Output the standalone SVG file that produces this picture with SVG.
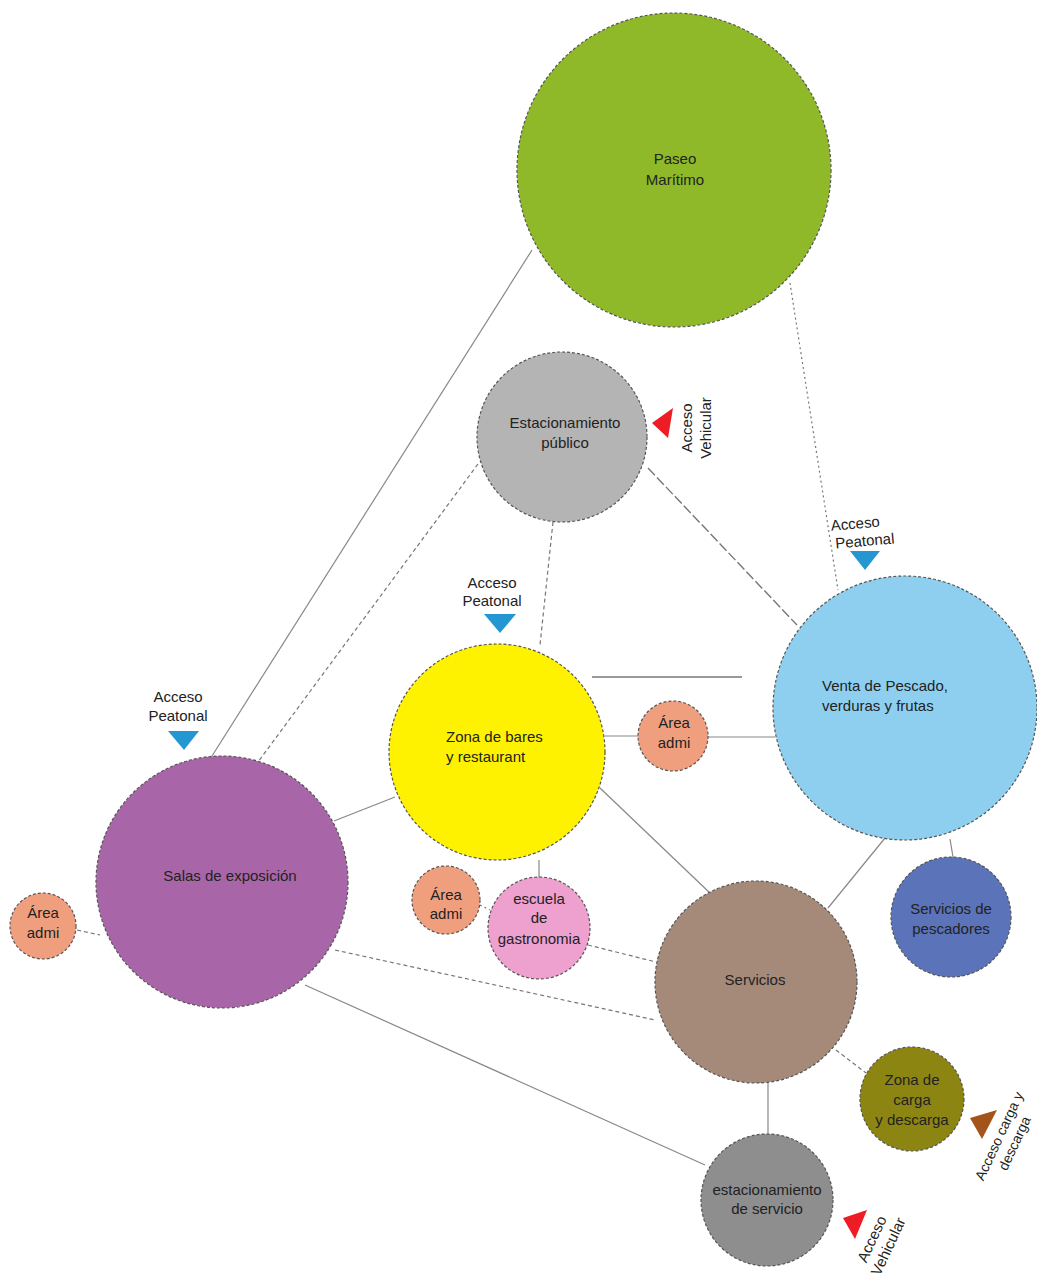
<svg xmlns="http://www.w3.org/2000/svg" width="1037" height="1278" viewBox="0 0 1037 1278">
<style>
.n{stroke:#555;stroke-width:1.2;stroke-dasharray:3 2}
.t{font-family:"Liberation Sans",Arial,sans-serif;font-size:15px;fill:#222;text-anchor:middle}
.ts{font-family:"Liberation Sans",Arial,sans-serif;font-size:15px;fill:#222}
.l{stroke:#888;stroke-width:1.2;fill:none}
.d{stroke:#777;stroke-width:1.2;stroke-dasharray:4 3;fill:none}
.dd{stroke:#777;stroke-width:1.2;stroke-dasharray:2 3;fill:none}
.ld{stroke:#777;stroke-width:1.4;stroke-dasharray:10 3;fill:none}
</style>
<rect width="1037" height="1278" fill="#fff"/>
<g id="connectors">
<line class="l" x1="532" y1="250" x2="212" y2="756"/>
<line class="dd" x1="790" y1="283" x2="838" y2="590"/>
<line class="d" x1="478" y1="464" x2="258" y2="762"/>
<line class="d" x1="553" y1="522" x2="540" y2="645"/>
<line class="ld" x1="648" y1="468" x2="797" y2="625"/>
<line stroke="#999" stroke-width="2" x1="592" y1="677" x2="742" y2="677"/>
<line class="l" stroke="#666" x1="605" y1="736" x2="638" y2="736"/>
<line class="l" x1="708" y1="737" x2="775" y2="737"/>
<line class="l" x1="395" y1="797" x2="334" y2="821"/>
<line class="l" x1="600" y1="788" x2="711" y2="894"/>
<line class="l" stroke="#666" x1="539" y1="860" x2="539" y2="878"/>
<line class="dd" x1="480" y1="905" x2="490" y2="910"/>
<line class="d" x1="588" y1="945" x2="656" y2="962"/>
<line class="d" x1="335" y1="950" x2="655" y2="1020"/>
<line class="l" x1="305" y1="985" x2="705" y2="1165"/>
<line class="d" x1="77" y1="930" x2="100" y2="935"/>
<line class="l" x1="885" y1="838" x2="828" y2="908"/>
<line class="l" x1="950" y1="839" x2="953" y2="857"/>
<line class="d" x1="836" y1="1050" x2="866" y2="1073"/>
<line class="l" x1="768" y1="1083" x2="768" y2="1134"/>
</g>
<g id="paseo-maritimo">
<circle class="n" cx="674" cy="170" r="157" fill="#8FB928"/>
<text class="t" x="675" y="164">Paseo</text>
<text class="t" x="675" y="185">Marítimo</text>
</g>
<g id="estacionamiento-publico">
<circle class="n" cx="562" cy="437" r="85" fill="#B4B4B4"/>
<text class="t" x="565" y="428">Estacionamiento</text>
<text class="t" x="565" y="448">público</text>
</g>
<g id="acceso-vehicular-1">
<polygon points="652,423 673,408 668,438" fill="#EE1C24"/>
<g transform="translate(696,428) rotate(-90)">
<text class="t" x="0" y="-4">Acceso</text>
<text class="t" x="0" y="15">Vehicular</text>
</g>
</g>
<g id="venta-pescado">
<circle class="n" cx="905" cy="708" r="132" fill="#8ECFF0"/>
<text class="ts" x="822" y="691">Venta de Pescado,</text>
<text class="ts" x="822" y="711">verduras y frutas</text>
</g>
<g id="acceso-peatonal-venta">
<g transform="rotate(-5 864 532)">
<text class="t" x="856" y="528">Acceso</text>
<text class="t" x="864" y="546">Peatonal</text>
</g>
<polygon points="850,551 880,551 865,570" fill="#2497D3"/>
</g>
<g id="zona-bares">
<circle class="n" cx="497" cy="752" r="108" fill="#FFF200"/>
<text class="ts" x="446" y="742">Zona de bares</text>
<text class="ts" x="446" y="762">y restaurant</text>
</g>
<g id="acceso-peatonal-bares">
<text class="t" x="492" y="588">Acceso</text>
<text class="t" x="492" y="606">Peatonal</text>
<polygon points="484,614 516,614 500,633" fill="#2497D3"/>
</g>
<g id="area-admi-1">
<circle class="n" cx="673" cy="736" r="35" fill="#F09F7E"/>
<text class="t" x="674" y="728">Área</text>
<text class="t" x="674" y="748">admi</text>
</g>
<g id="salas-exposicion">
<circle class="n" cx="222" cy="882" r="126" fill="#A866A8"/>
<text class="t" x="230" y="881">Salas de exposición</text>
</g>
<g id="acceso-peatonal-salas">
<text class="t" x="178" y="702">Acceso</text>
<text class="t" x="178" y="721">Peatonal</text>
<polygon points="168,731 199,731 184,750" fill="#2497D3"/>
</g>
<g id="area-admi-2">
<circle class="n" cx="43" cy="926" r="33" fill="#F09F7E"/>
<text class="t" x="43" y="918">Área</text>
<text class="t" x="43" y="938">admi</text>
</g>
<g id="area-admi-3">
<circle class="n" cx="446" cy="900" r="34" fill="#F09F7E"/>
<text class="t" x="446" y="900">Área</text>
<text class="t" x="446" y="919">admi</text>
</g>
<g id="escuela-gastronomia">
<circle class="n" cx="539" cy="928" r="51" fill="#EEA0CF"/>
<text class="t" x="539" y="904">escuela</text>
<text class="t" x="539" y="923">de</text>
<text class="t" x="539" y="944">gastronomia</text>
</g>
<g id="servicios">
<circle class="n" cx="756" cy="982" r="101" fill="#A58A7A"/>
<text class="t" x="755" y="985">Servicios</text>
</g>
<g id="servicios-pescadores">
<circle class="n" cx="951" cy="917" r="60" fill="#5B73B8"/>
<text class="t" x="951" y="914">Servicios de</text>
<text class="t" x="951" y="934">pescadores</text>
</g>
<g id="zona-carga">
<circle class="n" cx="912" cy="1099" r="52" fill="#8D8512"/>
<text class="t" x="912" y="1085">Zona de</text>
<text class="t" x="912" y="1105">carga</text>
<text class="t" x="912" y="1125">y descarga</text>
</g>
<g id="acceso-carga">
<polygon points="970,1118 997,1110 982,1139" fill="#A4541A"/>
<g transform="translate(999,1136) rotate(-65)">
<text class="t" x="0" y="5" style="font-size:14px">Acceso carga y</text>
<text class="t" x="0" y="22" style="font-size:14px">descarga</text>
</g>
</g>
<g id="estacionamiento-servicio">
<circle class="n" cx="767" cy="1200" r="66" fill="#8E8E8E"/>
<text class="t" x="767" y="1195">estacionamiento</text>
<text class="t" x="767" y="1214">de servicio</text>
</g>
<g id="acceso-vehicular-2">
<polygon points="843,1218 867,1210 855,1239" fill="#EE1C24"/>
<g transform="translate(872,1239) rotate(-65)">
<text class="t" x="0" y="5">Acceso</text>
<text class="t" x="0" y="23">Vehicular</text>
</g>
</g>
</svg>
